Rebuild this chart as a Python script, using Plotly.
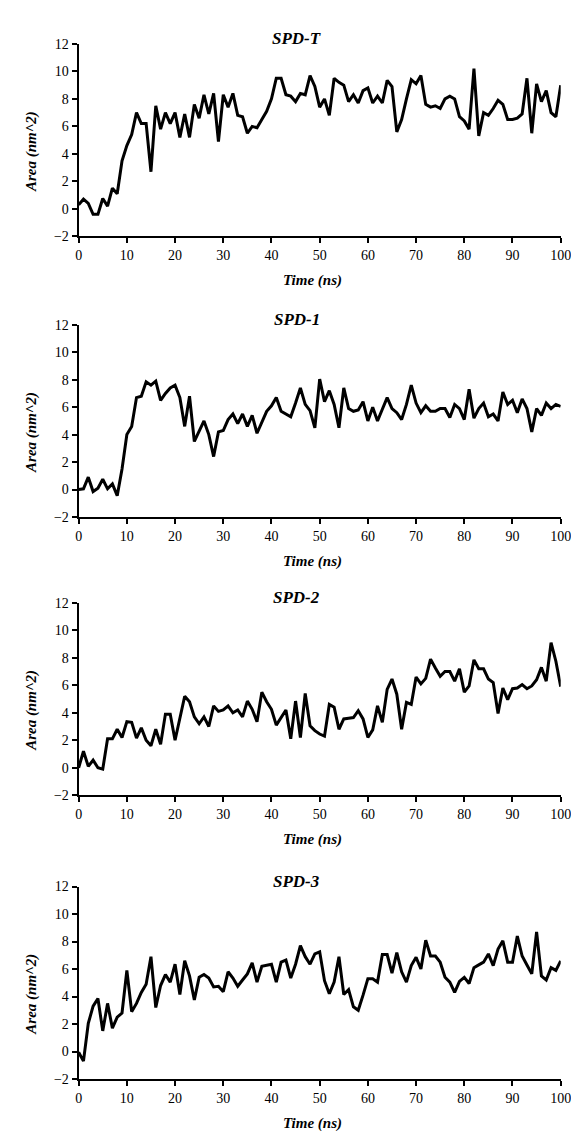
import plotly.graph_objects as go

time_ns = list(range(0, 101))

spd_t = [0.3, 0.7, 0.4, -0.4, -0.4, 0.75, 0.2, 1.5, 1.1, 3.5,
         4.6, 5.4, 7.0, 6.2, 6.2, 2.7, 7.5, 5.8, 7.0, 6.2,
         7.0, 5.2, 6.9, 5.2, 7.6, 6.6, 8.3, 6.9, 8.4, 4.9,
         8.3, 7.4, 8.4, 6.8, 6.7, 5.5, 6.0, 5.9, 6.5, 7.1,
         8.0, 9.5, 9.5, 8.3, 8.2, 7.8, 8.4, 8.3, 9.7, 8.9,
         7.4, 8.0, 6.8, 9.5, 9.2, 9.0, 7.8, 8.3, 7.7, 8.6,
         8.8, 7.7, 8.2, 7.7, 9.35, 8.9, 5.6, 6.5, 8.0, 9.4,
         9.1, 9.7, 7.6, 7.4, 7.5, 7.3, 8.0, 8.2, 8.0, 6.7,
         6.4, 5.8, 10.2, 5.3, 7.0, 6.8, 7.3, 7.9, 7.6, 6.5,
         6.5, 6.6, 6.9, 9.5, 5.5, 9.1, 7.8, 8.6, 7.0, 6.7,
         9.0]

spd_1 = [0.0, 0.05, 0.9, -0.15, 0.1, 0.75, 0.05, 0.4, -0.45, 1.5,
         4.0, 4.6, 6.7, 6.8, 7.85, 7.6, 7.9, 6.5, 7.0, 7.4,
         7.6, 6.7, 4.6, 6.8, 3.5, 4.3, 5.0, 4.0, 2.4, 4.2,
         4.3, 5.1, 5.5, 4.8, 5.5, 4.6, 5.4, 4.1, 4.9, 5.7,
         6.1, 6.7, 5.7, 5.5, 5.3, 6.3, 7.4, 6.2, 5.75, 4.5,
         8.05, 6.4, 7.2, 6.2, 4.5, 7.4, 5.9, 5.7, 5.8, 6.4,
         5.0, 6.0, 5.0, 5.85, 6.7, 5.9, 5.6, 5.1, 6.2, 7.6,
         6.3, 5.6, 6.1, 5.7, 5.7, 5.9, 5.9, 5.25, 6.2, 5.9,
         5.1, 7.3, 5.2, 5.9, 6.3, 5.3, 5.5, 5.0, 7.1, 6.2,
         6.5, 5.6, 6.6, 5.9, 4.2, 5.9, 5.4, 6.3, 5.9, 6.2,
         6.05]

spd_2 = [0.0, 1.2, 0.1, 0.55, 0.0, -0.1, 2.1, 2.1, 2.8, 2.2,
         3.35, 3.3, 2.15, 2.9, 2.0, 1.6, 2.8, 1.7, 3.9, 3.9,
         2.0, 3.7, 5.2, 4.8, 3.7, 3.2, 3.7, 3.0, 4.5, 4.1,
         4.2, 4.5, 4.0, 4.2, 3.7, 4.85, 4.25, 3.35, 5.5, 4.8,
         4.25, 3.1, 3.65, 4.2, 2.1, 4.85, 2.2, 5.4, 3.05, 2.7,
         2.45, 2.3, 4.6, 4.4, 2.8, 3.55, 3.6, 3.65, 4.15, 3.55,
         2.2, 2.75, 4.5, 3.3, 5.7, 6.45, 5.35, 2.8, 4.75, 4.6,
         6.6, 6.1, 6.5, 7.9, 7.25, 6.65, 7.0, 7.0, 6.3, 7.2,
         5.5, 5.95, 7.85, 7.2, 7.2, 6.45, 6.2, 3.95, 5.8, 4.95,
         5.75, 5.8, 6.05, 5.75, 5.95, 6.4, 7.3, 6.3, 9.1, 7.75,
         5.9]

spd_3 = [-0.05, -0.7, 2.05, 3.3, 3.85, 1.5, 3.5, 1.7, 2.5, 2.8,
         5.9, 2.9, 3.5, 4.3, 4.9, 6.9, 3.2, 4.8, 5.6, 5.05,
         6.35, 4.15, 6.6, 5.5, 3.75, 5.4, 5.6, 5.35, 4.7, 4.75,
         4.35, 5.8, 5.35, 4.75, 5.2, 5.65, 6.45, 5.05, 6.2, 6.25,
         6.35, 5.05, 6.5, 6.65, 5.35, 6.35, 7.7, 6.9, 6.35, 7.1,
         7.25, 5.15, 4.2, 5.05, 6.9, 4.15, 4.5, 3.25, 3.0, 4.1,
         5.3, 5.3, 5.05, 7.05, 7.05, 5.7, 7.2, 5.8, 5.05, 6.25,
         6.85, 6.0, 8.1, 6.95, 6.95, 6.5, 5.4, 5.05, 4.3, 5.1,
         5.4, 4.95, 6.1, 6.3, 6.5, 7.1, 6.25, 7.45, 8.05, 6.5,
         6.5, 8.4, 6.95, 6.3, 5.65, 8.7, 5.5, 5.2, 6.1, 5.9,
         6.6]

titles = ["SPD-T", "SPD-1", "SPD-2", "SPD-3"]
series = [spd_t, spd_1, spd_2, spd_3]
x_ticks = [0, 10, 20, 30, 40, 50, 60, 70, 80, 90, 100]
y_ticks = [-2, 0, 2, 4, 6, 8, 10, 12]
x_title = "Time (ns)"
y_title = "Area (nm^2)"

W, H = 579, 1131
# plot area pixel bounds (top, bottom) for each panel
x_left, x_right = 68.3, 562.3
panels_px = [(29.3, 224.3), (314.0, 508.7), (595.7, 790.7), (883.3, 1078.3)]

serif = "Liberation Serif"
fig = go.Figure()
layout = dict(
    width=W, height=H,
    margin=dict(l=0, r=0, t=0, b=0),
    paper_bgcolor="white", plot_bgcolor="white",
    showlegend=False,
    font=dict(family=serif, color="black", size=13),
)
annotations = []
for i, (name, vals) in enumerate(zip(titles, series)):
    n = "" if i == 0 else str(i + 1)
    top, bot = panels_px[i]
    ydom = [1 - bot / H, 1 - top / H]
    xdom = [x_left / W, x_right / W]
    fig.add_trace(go.Scatter(x=time_ns, y=vals, mode="lines",
                             line=dict(color="black", width=3),
                             xaxis="x" + n, yaxis="y" + n))
    layout["xaxis" + n] = dict(
        domain=xdom, range=[0, 100], anchor="y" + n,
        tickvals=x_ticks, showgrid=False, zeroline=False,
        showline=True, linecolor="black", linewidth=2,
        ticks="outside", ticklen=5, tickwidth=2, tickcolor="black",
        tickfont=dict(family=serif, size=14, color="black"),
        fixedrange=True,
    )
    layout["yaxis" + n] = dict(
        domain=ydom, range=[-2, 12], anchor="x" + n,
        tickvals=y_ticks, showgrid=False, zeroline=False,
        showline=True, linecolor="black", linewidth=2,
        ticks="outside", ticklen=5, tickwidth=2, tickcolor="black",
        tickfont=dict(family=serif, size=14, color="black"),
        fixedrange=True,
    )
    # panel title
    annotations.append(dict(
        text="<b><i>%s</i></b>" % name, xref="paper", yref="paper",
        x=292 / W, y=1 - (top - 5) / H, xanchor="center", yanchor="middle",
        showarrow=False, font=dict(family=serif, size=17, color="black")))
    # x title
    annotations.append(dict(
        text="<b><i>%s</i></b>" % x_title, xref="paper", yref="paper",
        x=308 / W, y=1 - (bot + 45) / H, xanchor="center", yanchor="middle",
        showarrow=False, font=dict(family=serif, size=15, color="black")))
    # y title
    annotations.append(dict(
        text="<b><i>%s</i></b>" % y_title, xref="paper", yref="paper",
        x=20 / W, y=1 - (top + 109) / H, xanchor="center", yanchor="middle",
        textangle=-90,
        showarrow=False, font=dict(family=serif, size=15, color="black")))

layout["annotations"] = annotations
fig.update_layout(**layout)
fig.write_html("out.html")
